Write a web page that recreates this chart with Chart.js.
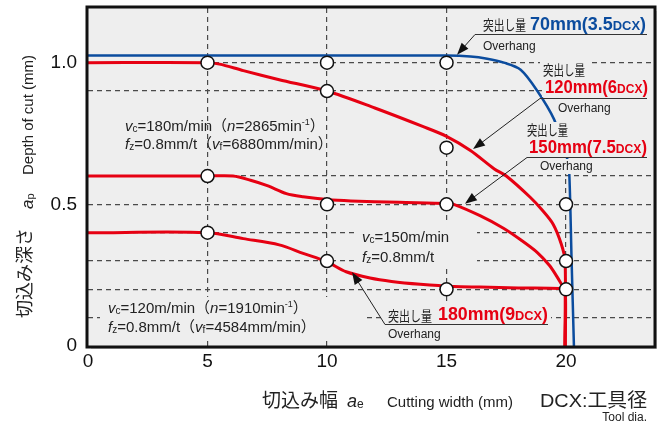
<!DOCTYPE html>
<html>
<head>
<meta charset="utf-8">
<script src="https://cdn.jsdelivr.net/npm/chart.js@4.4.1/dist/chart.umd.min.js"></script>
<style>
  html, body { margin: 0; background: #fff; }
</style>
</head>
<body>
<canvas id="depthChart" width="665" height="426"></canvas>
<script>
/**************************************************
 * DATA
 **************************************************/
const widthTicks = [0, 5, 10, 15, 20];
const depthLabels = [0, 0.5, 1.0];
const depthGrid = [0.1, 0.2, 0.3, 0.4, 0.5, 0.6, 0.9, 1.0];

// overhang 70mm (3.5DCX)
const width70 = [0, 15, 16, 16.7, 17.4, 18.1, 18.8, 19.5, 19.8, 20.04, 20.13, 20.23, 20.33];
const depth70 = [1.025, 1.025, 1.022, 1.014, 1.0, 0.975, 0.9, 0.8, 0.72, 0.664, 0.62, 0.31, 0];

// overhang 120mm (6DCX)
const width120 = [0, 5, 5.5, 6.5, 8, 10, 12, 14, 15, 16, 17, 17.5, 18.5, 19, 19.46, 19.8, 19.96, 19.96];
const depth120 = [1.0, 1.0, 0.995, 0.972, 0.94, 0.9, 0.84, 0.775, 0.74, 0.69, 0.625, 0.6, 0.525, 0.48, 0.43, 0.36, 0.3, 0];

// overhang 150mm (7.5DCX)
const width150 = [0, 5, 6.07, 6.8, 7.5, 8.3, 9, 10, 11, 13, 15, 15.3, 16.4, 17.4, 18.1, 18.8, 19.3, 19.62, 19.87, 19.96, 19.96];
const depth150 = [0.6, 0.6, 0.6, 0.585, 0.566, 0.538, 0.527, 0.517, 0.512, 0.507, 0.503, 0.5, 0.46, 0.415, 0.375, 0.33, 0.285, 0.245, 0.21, 0.2, 0];

// overhang 180mm (9DCX)
const width180 = [0, 5, 6.5, 8, 9, 10, 10.8, 11.8, 12.7, 13.9, 15.3, 16.4, 18, 19.75, 19.96, 19.96];
const depth180 = [0.4, 0.4, 0.379, 0.357, 0.327, 0.297, 0.262, 0.24, 0.228, 0.218, 0.21, 0.208, 0.205, 0.203, 0.2, 0];

// test points (open circles)
const testWidth = [5, 10, 15, 10, 15, 5, 10, 15, 20, 5, 10, 20, 15, 20];
const testDepth = [1.0, 1.0, 1.0, 0.9, 0.7, 0.6, 0.5, 0.5, 0.5, 0.4, 0.3, 0.3, 0.2, 0.2];

const overhangMm = ['70', '120', '150', '180'];
const overhangDcx = ['3.5', '6', '7.5', '9'];

/**************************************************
 * STYLE HELPERS
 **************************************************/
const RED = '#e60012';
const BLUE = '#0b4c9e';
const PLOT_BG = '#eeeeee';
const GRID = '#4a4a4a';
const JP = '"Noto Sans CJK JP", sans-serif';
const SANS = '"Liberation Sans", Arial, sans-serif';

const pts = (xs, ys) => xs.map((x, i) => ({ x: x, y: ys[i] }));

function measure(ctx, segs) {
  let total = 0;
  segs.forEach(s => { ctx.font = s.f; s.w = ctx.measureText(s.t).width; total += s.w; });
  return total;
}

// draw a run of mixed-font text; optional fit width and background
function rich(ctx, x, y, segs, fitW, bg) {
  const total = measure(ctx, segs);
  const sx = fitW ? fitW / total : 1;
  if (bg) {
    ctx.fillStyle = PLOT_BG;
    ctx.fillRect(x - 3, y - bg[0], total * sx + 6, bg[0] + bg[1]);
  }
  ctx.save();
  ctx.translate(x, y);
  ctx.scale(sx, 1);
  ctx.textAlign = 'left';
  ctx.textBaseline = 'alphabetic';
  let cx = 0;
  segs.forEach(s => {
    ctx.font = s.f;
    ctx.fillStyle = s.c || '#222';
    ctx.fillText(s.t, cx, s.dy || 0);
    cx += s.w;
  });
  ctx.restore();
}

function arrow(ctx, x0, y0, x1, y1) {
  const ang = Math.atan2(y1 - y0, x1 - x0);
  const len = 12, hw = 4.5;
  ctx.save();
  ctx.strokeStyle = '#222';
  ctx.fillStyle = '#111';
  ctx.lineWidth = 1;
  ctx.beginPath();
  ctx.moveTo(x0, y0);
  ctx.lineTo(x1 - Math.cos(ang) * len * 0.8, y1 - Math.sin(ang) * len * 0.8);
  ctx.stroke();
  ctx.beginPath();
  ctx.moveTo(x1, y1);
  ctx.lineTo(x1 - Math.cos(ang) * len - Math.sin(ang) * hw, y1 - Math.sin(ang) * len + Math.cos(ang) * hw);
  ctx.lineTo(x1 - Math.cos(ang) * len + Math.sin(ang) * hw, y1 - Math.sin(ang) * len - Math.cos(ang) * hw);
  ctx.closePath();
  ctx.fill();
  ctx.restore();
}

function hline(ctx, x0, x1, y) {
  ctx.save();
  ctx.strokeStyle = '#333';
  ctx.lineWidth = 1;
  ctx.beginPath();
  ctx.moveTo(x0, y + 0.5);
  ctx.lineTo(x1, y + 0.5);
  ctx.stroke();
  ctx.restore();
}

function cond(v, n, vf, isF) {
  const f15 = '15px ' + SANS, i15 = 'italic 15px ' + SANS, s10 = '10px ' + SANS, j15 = '15px ' + JP;
  if (!isF) {
    const segs = [{ t: 'v', f: i15 }, { t: 'c', f: s10, dy: 1 }, { t: '=' + v + 'm/min', f: f15 }];
    if (n) segs.push({ t: '（', f: j15 }, { t: 'n', f: i15 }, { t: '=' + n + 'min', f: f15 },
                     { t: '-1', f: '9px ' + SANS, dy: -6 }, { t: '）', f: j15 });
    return segs;
  }
  const segs = [{ t: 'f', f: i15 }, { t: 'z', f: s10, dy: 1 }, { t: '=0.8mm/t', f: f15 }];
  if (vf) segs.push({ t: '（', f: j15 }, { t: 'v', f: i15 }, { t: 'f', f: s10, dy: 1 },
                    { t: '=' + vf + 'mm/min', f: f15 }, { t: '）', f: j15 });
  return segs;
}

// label layout: [kanji x, kanji y, kanji w, value x, value y, value w, overhang x, overhang y, line x0, x1, y, tip width, tip depth]
const labelLayout = [
  [483, 30, 43, 530, 30, 116, 483, 50, 475, 647, 34, 15.44, 1.028],
  [543, 75, 42, 545, 93, 103, 558, 112, 540, 647, 98, 16.11, 0.695],
  [527, 135, 41, 529, 153, 118, 540, 170, 527, 647, 157, 15.77, 0.502],
  [388, 321, 44, 438, 320, 110, 388, 338, 385, 548, 324, 11.05, 0.26]
];
const labelColors = [BLUE, RED, RED, RED];

/**************************************************
 * PLUGIN: background, annotations, frame, titles
 **************************************************/
const decor = {
  id: 'decor',
  beforeDraw(chart) {
    const { ctx, chartArea: a } = chart;
    ctx.save();
    ctx.fillStyle = '#d4d4d4';
    ctx.fillRect(a.left + 3, a.top + 3, a.right - a.left, a.bottom - a.top);
    ctx.fillStyle = PLOT_BG;
    ctx.fillRect(a.left, a.top, a.right - a.left, a.bottom - a.top);
    ctx.restore();
  },
  beforeDatasetsDraw(chart) {
    const { ctx, chartArea: a, scales } = chart;
    const xs = scales.x, ys = scales.y;
    ctx.save();
    ctx.fillStyle = PLOT_BG;
    // x=20 grid line stops under the labels
    ctx.fillRect(xs.getPixelForValue(20) - 3, a.top, 6, ys.getPixelForValue(0.63) - a.top);
    ctx.restore();
  },
  beforeDatasetDraw(chart, args) {
    if (args.index !== 0) return;
    const { ctx, scales } = chart;
    const xs = scales.x, ys = scales.y;
    ctx.save();

    // condition texts
    rich(ctx, 125, 131, cond('180', '2865'));
    rich(ctx, 125, 149, cond('', '', '6880', true));
    ctx.fillStyle = PLOT_BG;
    ctx.fillRect(355, 224, 122, 44);
    rich(ctx, 362, 242, cond('150'));
    rich(ctx, 362, 262, cond('', '', '', true));
    ctx.fillStyle = PLOT_BG;
    ctx.fillRect(100, 297, 263, 42);
    rich(ctx, 108, 313, cond('120', '1910'));
    rich(ctx, 108, 332, cond('', '', '4584', true));

    // overhang labels
    ctx.fillStyle = PLOT_BG;
    ctx.fillRect(383, 303, 168, 43);
    labelLayout.forEach((L, i) => {
      const col = labelColors[i];
      const bg = i < 3;
      hline(ctx, L[8], L[9], L[10]);
      arrow(ctx, L[8], L[10] + 0.5, xs.getPixelForValue(L[11]), ys.getPixelForValue(L[12]));
      rich(ctx, L[0], L[1], [{ t: '突出し量', f: '14px ' + JP }], L[2], bg ? [13, 3] : null);
      rich(ctx, L[3], L[4], [
        { t: overhangMm[i] + 'mm(' + overhangDcx[i], f: 'bold 18px ' + SANS, c: col },
        { t: 'DCX', f: 'bold 13px ' + SANS, c: col },
        { t: ')', f: 'bold 18px ' + SANS, c: col }
      ], L[5], bg ? [15, 4] : null);
      rich(ctx, L[6], L[7], [{ t: 'Overhang', f: '12px ' + SANS }], null, bg ? [11, 4] : null);
    });
    ctx.restore();
  },
  afterDraw(chart) {
    const { ctx, chartArea: a } = chart;
    ctx.save();
    ctx.strokeStyle = '#111';
    ctx.lineWidth = 3;
    ctx.strokeRect(a.left - 1, a.top - 1, a.right - a.left + 2, a.bottom - a.top + 2);

    // y title (rotated)
    ctx.save();
    ctx.translate(31, 318);
    ctx.rotate(-Math.PI / 2);
    rich(ctx, 0, 0, [{ t: '切込み深さ', f: '18px ' + JP }]);
    ctx.restore();
    ctx.save();
    ctx.translate(33, 318);
    ctx.rotate(-Math.PI / 2);
    rich(ctx, 109, 0, [{ t: 'a', f: 'italic 17px ' + SANS }, { t: 'p', f: '11px ' + SANS, dy: 1 }]);
    rich(ctx, 143, 0, [{ t: 'Depth of cut (mm)', f: '14px ' + SANS }], 120);
    ctx.restore();

    // x title
    rich(ctx, 262, 407, [{ t: '切込み幅', f: '19px ' + JP }]);
    rich(ctx, 347, 407, [{ t: 'a', f: 'italic 18px ' + SANS }, { t: 'e', f: '12px ' + SANS, dy: 1 }]);
    rich(ctx, 387, 407, [{ t: 'Cutting width (mm)', f: '14px ' + SANS }], 126);
    rich(ctx, 540, 407, [{ t: 'DCX:', f: '19px ' + SANS }, { t: '工具径', f: '19px ' + JP }], 107);
    ctx.font = '12px ' + SANS;
    ctx.fillStyle = '#222';
    ctx.textAlign = 'right';
    ctx.fillText('Tool dia.', 647, 421);
    ctx.restore();
  }
};

/**************************************************
 * CHART
 **************************************************/
const lineSet = (xs, ys, color, w) => ({
  data: pts(xs, ys),
  order: 1,
  showLine: true,
  borderColor: color,
  borderWidth: w,
  pointRadius: 0,
  tension: 0.3,
  fill: false
});

new Chart(document.getElementById('depthChart'), {
  type: 'scatter',
  data: {
    datasets: [
      {
        data: pts(testWidth, testDepth),
        order: 0,
        showLine: false,
        pointRadius: 6.5,
        pointBackgroundColor: '#fff',
        pointBorderColor: '#111',
        pointBorderWidth: 1.5
      },
      lineSet(width70, depth70, BLUE, 2.5),
      lineSet(width120, depth120, RED, 3),
      lineSet(width150, depth150, RED, 3),
      lineSet(width180, depth180, RED, 3)
    ]
  },
  options: {
    responsive: false,
    animation: false,
    events: [],
    layout: { padding: { top: 6, right: 11, left: 0, bottom: 0 } },
    plugins: { legend: { display: false }, tooltip: { enabled: false } },
    scales: {
      x: {
        type: 'linear',
        min: 0,
        max: 23.68,
        afterBuildTicks: s => { s.ticks = widthTicks.map(v => ({ value: v })); },
        afterFit: s => { s.height = 80; s.paddingLeft = 0; s.paddingRight = 0; },
        ticks: { color: '#111', font: { family: SANS, size: 19 }, padding: 4, autoSkip: false, maxRotation: 0 },
        grid: {
          color: c => (c.tick && c.tick.value === 0 ? 'rgba(0,0,0,0)' : GRID),
          lineWidth: 1.2,
          drawTicks: false,
          borderDash: [5, 4]
        },
        border: { display: false, dash: [5, 4] }
      },
      y: {
        min: 0,
        max: 1.193,
        afterBuildTicks: s => { s.ticks = [0].concat(depthGrid).map(v => ({ value: v })); },
        afterFit: s => { s.width = 88; s.paddingTop = 0; s.paddingBottom = 0; },
        ticks: {
          color: '#111',
          font: { family: SANS, size: 19 },
          padding: 11,
          autoSkip: false,
          callback: v => (depthLabels.includes(v) ? (v === 0 ? '0' : v.toFixed(1)) : '')
        },
        grid: {
          color: c => (c.tick && c.tick.value === 0 ? 'rgba(0,0,0,0)' : GRID),
          lineWidth: 1.2,
          drawTicks: false,
          borderDash: [5, 4]
        },
        border: { display: false, dash: [5, 4] }
      }
    }
  },
  plugins: [decor]
});
</script>
</body>
</html>
